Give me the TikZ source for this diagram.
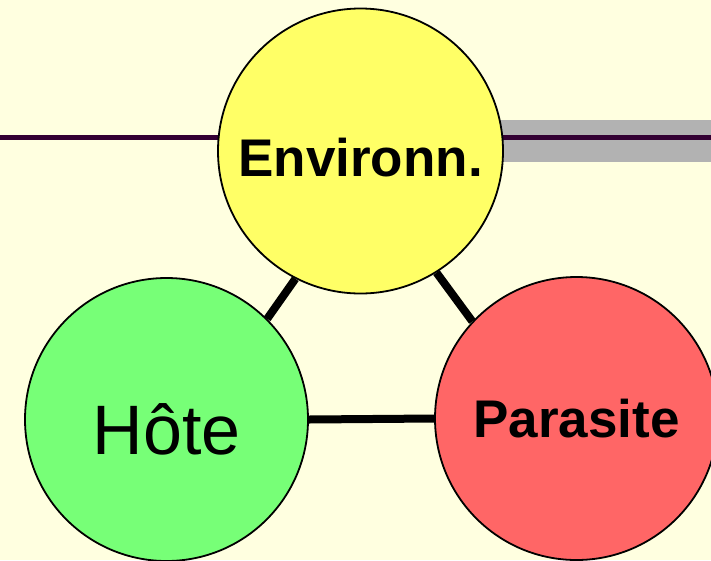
\documentclass[tikz,border=0pt]{standalone}
\usepackage{fontspec}
\setmainfont{Liberation Sans}
\definecolor{fond}{HTML}{FFFFE0}
\definecolor{jaune}{HTML}{FFFF66}
\definecolor{vert}{HTML}{77FF77}
\definecolor{rouge}{HTML}{FF6666}
\definecolor{prune}{HTML}{330033}
\definecolor{gris}{HTML}{B2B2B2}
\tikzset{
	bulle/.style={circle, draw=black, line width=1.8pt, minimum size=283pt, inner sep=0pt},
	lien/.style={line width=8pt}
}

\begin{document}
\begin{tikzpicture}[x=1pt, y=-1pt]
			%%%%% START %%%%%
			\useasboundingbox (0, 0) rectangle (711, 560);
			\fill[fond] (0, 0) rectangle (711, 560);
			
			\fill[gris] (500, 120) rectangle (711, 162);
			\draw[prune, line width=5pt] (0, 137.5) -- (711, 137.5);
			
			\node[bulle, fill=jaune, minimum size=285pt, text height=51pt, text depth=0pt] (env) at (360.5, 151) {\fontsize{53}{60}\selectfont\bfseries Environn.};
			\node[bulle, fill=vert, text height=69pt, text depth=0pt] (hote) at (166.5, 419.5) {\fontsize{70}{80}\selectfont Hôte};
			\node[bulle, fill=rouge] (para) at (576.5, 418.5) {\fontsize{53}{60}\selectfont\bfseries Parasite};
			
			\draw[lien] (hote.45) -- (env.243);
			\draw[lien] (env.302) -- (para.137);
			\draw[lien] (hote.0) -- (para.180);
			%%%%% END %%%%%
\end{tikzpicture}
\end{document}
